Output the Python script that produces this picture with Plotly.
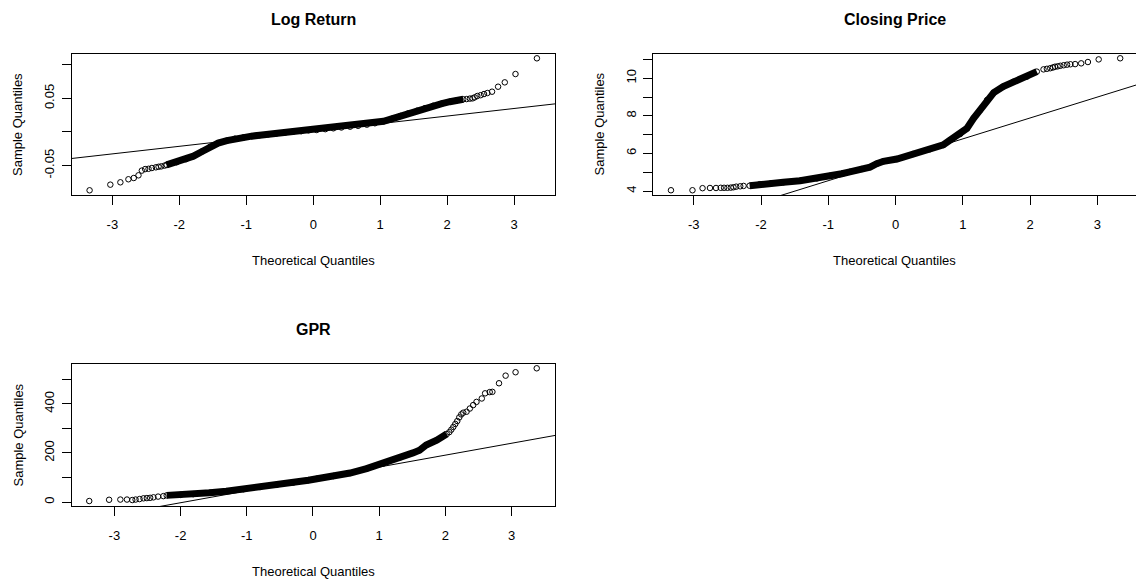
import plotly.graph_objects as go

# ---------------- data ----------------
# Log Return: theoretical quantile / sample quantile pairs
lr_theo = [-3.34, -3.03, -2.88, -2.76, -2.68, -2.61, -2.56, -2.51, -2.46, -2.41, -2.35, -2.31, -2.27, -2.22,
           -2.19, -2.04, -1.90, -1.79, -1.66, -1.54, -1.42, -1.29, -1.17, -1.04, -0.92, -0.80, -0.67, -0.55,
           -0.42, -0.30, -0.18, -0.07, 0.05, 0.18, 0.30, 0.42, 0.55, 0.67, 0.80, 0.92, 1.05, 1.17, 1.30, 1.42,
           1.55, 1.67, 1.79, 1.92, 2.04, 2.14, 2.24,
           2.29, 2.34, 2.38, 2.41, 2.45, 2.50, 2.55, 2.60, 2.67, 2.76, 2.86, 3.02, 3.34]
lr_sample = [-0.0868, -0.0784, -0.0749, -0.0704, -0.0685, -0.0645, -0.0575, -0.0552, -0.0548, -0.0536, -0.0526,
             -0.0518, -0.0512, -0.0500,
             -0.0490, -0.0450, -0.0405, -0.0360, -0.0290, -0.0220, -0.0165, -0.0129, -0.0100, -0.0079, -0.0062,
             -0.0048, -0.0034, -0.0022, -0.0008, 0.0005, 0.0012, 0.0025, 0.0030, 0.0042, 0.0055, 0.0067, 0.0079,
             0.0092, 0.0109, 0.0130, 0.0159, 0.0195, 0.0238, 0.0278, 0.0317, 0.0355, 0.0391, 0.0422, 0.0451,
             0.0470, 0.0487,
             0.0490, 0.0497, 0.0501, 0.0515, 0.0536, 0.0548, 0.0565, 0.0580, 0.0600, 0.0674, 0.0739, 0.0863, 0.1097]
lr_quartiles = [-0.0064, 0.0088]

# Closing Price
cp_theo = [-3.34, -3.02, -2.87, -2.76, -2.67, -2.60, -2.55, -2.50, -2.45, -2.41, -2.37, -2.31, -2.26, -2.17,
           -2.02, -1.85, -1.67, -1.42, -1.17, -0.98, -0.80, -0.68, -0.50, -0.38, -0.28, -0.18, 0.02, 0.26, 0.51,
           0.71, 0.81, 0.96, 1.06, 1.16, 1.26, 1.36, 1.46, 1.60, 1.75, 1.95, 2.10,
           2.20, 2.25, 2.30, 2.34, 2.37, 2.41, 2.45, 2.50, 2.55, 2.60, 2.67, 2.76, 2.86, 3.02, 3.34]
cp_sample = [4.04, 4.04, 4.15, 4.16, 4.16, 4.17, 4.17, 4.17, 4.18, 4.20, 4.23, 4.25, 4.27, 4.28,
             4.36, 4.41, 4.46, 4.55, 4.67, 4.80, 4.92, 5.02, 5.17, 5.27, 5.45, 5.58, 5.70, 5.97, 6.22,
             6.45, 6.71, 7.03, 7.33, 7.87, 8.31, 8.84, 9.23, 9.55, 9.81, 10.08, 10.35,
             10.47, 10.50, 10.53, 10.57, 10.61, 10.63, 10.66, 10.69, 10.72, 10.74, 10.75, 10.79, 10.86, 11.00, 11.06]
cp_quartiles = [4.91, 6.41]

# GPR
gpr_theo = [-3.38, -3.08, -2.91, -2.81, -2.73, -2.68, -2.62, -2.56, -2.51, -2.46, -2.41, -2.34, -2.26,
            -2.21, -2.00, -1.81, -1.56, -1.31, -1.05, -0.80, -0.55, -0.30, -0.07, 0.06, 0.31, 0.56, 0.81,
            1.06, 1.31, 1.51, 1.61, 1.71, 1.87, 2.02,
            2.06, 2.09, 2.12, 2.15, 2.18, 2.21, 2.24, 2.27, 2.32, 2.37, 2.42, 2.47, 2.55, 2.60, 2.67, 2.71,
            2.81, 2.91, 3.06, 3.38]
gpr_sample = [4, 9, 10, 10, 8, 10, 12, 15, 16, 17, 19, 22, 24,
              27, 29, 32, 38, 44, 52, 61, 70, 79, 89, 95, 106, 118, 136,
              157, 181, 200, 211, 232, 252, 277,
              285, 295, 306, 318, 330, 345, 357, 364, 368, 381, 395, 408, 422, 443, 448, 449,
              484, 515, 529, 545]
gpr_quartiles = [61.3, 126.7]

titles = ["Log Return", "Closing Price", "GPR"]
x_tick_vals = [-3, -2, -1, 0, 1, 2, 3]
x_tick_text = ["-3", "-2", "-1", "0", "1", "2", "3"]
lr_ytick_vals = [-0.05, 0.0, 0.05, 0.10]
lr_ytick_text = ["-0.05", "", "0.05", ""]
cp_ytick_vals = [4, 5, 6, 7, 8, 9, 10, 11]
cp_ytick_text = ["4", "", "6", "", "8", "", "10", ""]
gpr_ytick_vals = [0, 100, 200, 300, 400, 500]
gpr_ytick_text = ["0", "", "200", "", "400", ""]

# ---------------- layout geometry (pixels) ----------------
W, H = 1136, 583
FONT = "Liberation Sans, Arial, sans-serif"
Z75 = 0.6744897501960817  # qnorm(0.75)

panels = [
    dict(theo=lr_theo, samp=lr_sample, q=lr_quartiles, title=titles[0],
         box=(71.5, 555, 54, 195), xr=[-3.61, 3.61], yr=[-0.0938, 0.1161],
         yt=(lr_ytick_vals, lr_ytick_text), dense=(-2.19, 2.24), mirror_y=True),
    dict(theo=cp_theo, samp=cp_sample, q=cp_quartiles, title=titles[1],
         box=(653, 1136, 54, 195), xr=[-3.607, 3.575], yr=[3.787, 11.287],
         yt=(cp_ytick_vals, cp_ytick_text), dense=(-2.17, 2.10), mirror_y=False),
    dict(theo=gpr_theo, samp=gpr_sample, q=gpr_quartiles, title=titles[2],
         box=(71.5, 555, 364, 506), xr=[-3.648, 3.656], yr=[-16.3, 562.5],
         yt=(gpr_ytick_vals, gpr_ytick_text), dense=(-2.21, 2.02), mirror_y=True),
]

fig = go.Figure()
annotations = []
layout_axes = {}

for i, p in enumerate(panels, start=1):
    xa = "x" if i == 1 else f"x{i}"
    ya = "y" if i == 1 else f"y{i}"
    x0, x1, ytop, ybot = p["box"]

    # qqline through the quartiles
    slope = (p["q"][1] - p["q"][0]) / (2 * Z75)
    inter = (p["q"][0] + p["q"][1]) / 2
    fig.add_trace(go.Scatter(x=p["xr"], y=[inter + slope * v for v in p["xr"]], mode="lines",
                             line=dict(color="black", width=1), xaxis=xa, yaxis=ya,
                             hoverinfo="skip", showlegend=False))
    # dense band of overlapping points
    lo, hi = p["dense"]
    bx = [t for t in p["theo"] if lo <= t <= hi]
    by = [s for t, s in zip(p["theo"], p["samp"]) if lo <= t <= hi]
    fig.add_trace(go.Scatter(x=bx, y=by, mode="lines", line=dict(color="black", width=7),
                             xaxis=xa, yaxis=ya, hoverinfo="skip", showlegend=False))
    # individual points
    fig.add_trace(go.Scatter(x=p["theo"], y=p["samp"], mode="markers",
                             marker=dict(symbol="circle-open", size=5.5, color="black",
                                         line=dict(width=1, color="black")),
                             xaxis=xa, yaxis=ya, showlegend=False))

    axis_common = dict(showgrid=False, zeroline=False, showline=True, linecolor="black",
                       linewidth=1, ticks="outside", ticklen=9, tickwidth=1, tickcolor="black",
                       tickfont=dict(family=FONT, size=13, color="black"))
    layout_axes["xaxis" if i == 1 else f"xaxis{i}"] = dict(
        axis_common, domain=[x0 / W, x1 / W], range=p["xr"], anchor=ya, mirror=True,
        tickmode="array", tickvals=x_tick_vals, ticktext=x_tick_text, ticklabelstandoff=8)
    layout_axes["yaxis" if i == 1 else f"yaxis{i}"] = dict(
        axis_common, domain=[1 - ybot / H, 1 - ytop / H], range=p["yr"], anchor=xa,
        mirror=p["mirror_y"], tickmode="array", tickvals=p["yt"][0], ticktext=p["yt"][1],
        tickangle=-90, ticklabelstandoff=2)

    cx = (x0 + (x0 + 483.5)) / 2
    annotations.append(dict(text=f"<b>{p['title']}</b>", x=cx / W, y=1 - (ytop - 35) / H,
                            xref="paper", yref="paper", showarrow=False,
                            font=dict(family=FONT, size=16, color="black"),
                            xanchor="center", yanchor="middle"))
    annotations.append(dict(text="Theoretical Quantiles", x=cx / W, y=1 - (ybot + 65.5) / H,
                            xref="paper", yref="paper", showarrow=False,
                            font=dict(family=FONT, size=13, color="black"),
                            xanchor="center", yanchor="middle"))
    annotations.append(dict(text="Sample Quantiles", x=(x0 - 54) / W, y=1 - (ytop + ybot) / 2 / H,
                            xref="paper", yref="paper", showarrow=False, textangle=-90,
                            font=dict(family=FONT, size=13, color="black"),
                            xanchor="center", yanchor="middle"))

fig.update_layout(width=W, height=H, margin=dict(l=0, r=0, t=0, b=0),
                  paper_bgcolor="white", plot_bgcolor="white",
                  annotations=annotations, **layout_axes)

fig.write_html("out.html")
